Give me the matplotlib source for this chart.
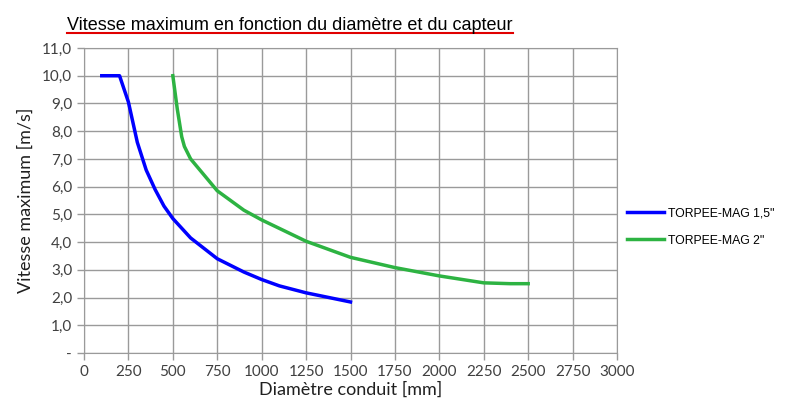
import matplotlib
matplotlib.use("Agg")
import matplotlib.pyplot as plt
from matplotlib.lines import Line2D

# TORPEE-MAG 1,5"
d_15 = [100, 200, 250, 300, 350, 400, 450, 500, 600, 750, 900, 1000, 1100, 1250, 1500]
v_15 = [10.0, 10.0, 9.05, 7.6, 6.6, 5.9, 5.3, 4.85, 4.15, 3.4, 2.92, 2.65, 2.42, 2.17, 1.84]

# TORPEE-MAG 2"
d_2 = [500, 525, 550, 565, 600, 750, 900, 1000, 1250, 1500, 1750, 2000, 2250, 2400, 2500]
v_2 = [10.0, 8.8, 7.8, 7.45, 7.0, 5.85, 5.15, 4.8, 4.03, 3.45, 3.08, 2.78, 2.53, 2.5, 2.5]

labels = ['TORPEE-MAG 1,5"', 'TORPEE-MAG 2"']
colors = ["#0000ff", "#2db342"]

x_ticks = list(range(0, 3001, 250))
y_ticks = list(range(0, 12))
y_labels = ["-"] + [f"{v},0" for v in y_ticks[1:]]

fig = plt.figure(figsize=(7.87, 4.03), dpi=100)
ax = fig.add_axes([84 / 787, 1 - 353 / 403, 533 / 787, 305 / 403])

ax.plot(d_15, v_15, color=colors[0], lw=2.5, label=labels[0], zorder=3)
ax.plot(d_2, v_2, color=colors[1], lw=2.5, label=labels[1], zorder=3)

ax.set_xlim(0, 3000)
ax.set_ylim(0, 11)
ax.set_xticks(x_ticks)
ax.set_yticks(y_ticks)
ax.set_yticklabels(y_labels)
ax.grid(True, color="#9a9a9a", lw=1)
ax.set_axisbelow(True)
for s in ax.spines.values():
    s.set_color("#9a9a9a")
ax.tick_params(colors="#9a9a9a", labelcolor="#404040", labelsize=11, length=5, width=1)
for lab in ax.get_xticklabels() + ax.get_yticklabels():
    lab.set_family("Lato")

ax.set_xlabel("Diamètre conduit [mm]", fontsize=13, family="Lato", color="#202020", labelpad=2)
ax.set_ylabel("Vitesse maximum [m/s]", fontsize=13, family="Lato", color="#202020", labelpad=6)

handles = [Line2D([], [], color=c, lw=2.5) for c in colors]
fig.legend(handles, labels, loc="center left", bbox_to_anchor=(622 / 787, 1 - 227 / 403),
           frameon=False, handlelength=3.0, handletextpad=0.4, borderaxespad=0,
           labelspacing=1.25, prop={"family": "Liberation Sans", "size": 8.8})

t = fig.text(67 / 787, 1 - 30 / 403, "Vitesse maximum en fonction du diamètre et du capteur",
             fontsize=13, family="Liberation Sans", color="#000000", va="baseline")
fig.canvas.draw()
bb = t.get_window_extent()
y_line = 1 - 33 / 403
fig.add_artist(Line2D([bb.x0 / 787, bb.x1 / 787], [y_line, y_line], color="#e00000", lw=1.5,
                      transform=fig.transFigure))

fig.savefig("out.png", dpi=100)
